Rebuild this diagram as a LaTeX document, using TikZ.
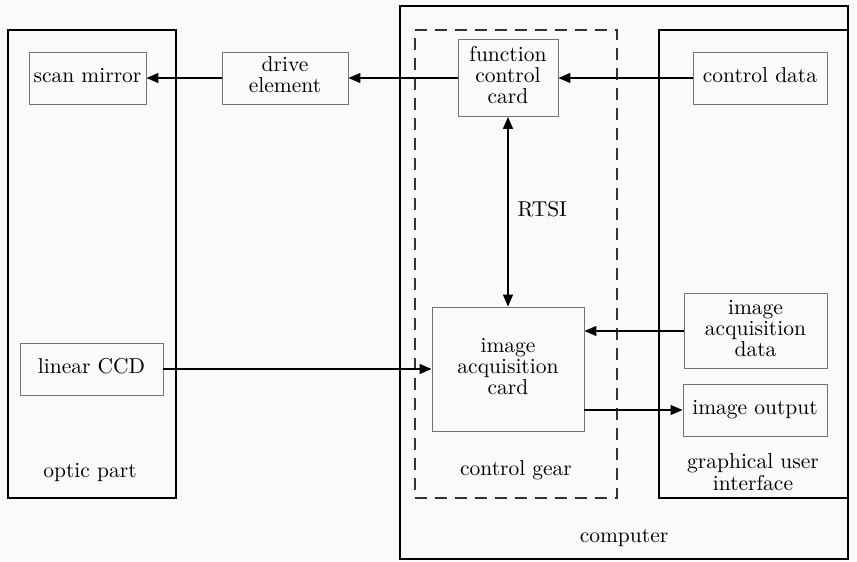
\documentclass[tikz,border=0pt]{standalone}
\usetikzlibrary{arrows.meta}
% labels are set in the 10pt design size and enlarged, which keeps the strokes heavy
\newcommand\lbl[1]{\scalebox{2.15}{\fontsize{10}{9.8}\selectfont\begin{tabular}{@{}c@{}}#1\end{tabular}}}
\begin{document}
\begin{tikzpicture}[x=1pt,y=-1pt,
  every node/.style={inner sep=0pt},
  inner/.style={draw=black!55, line width=0.9pt, rectangle, align=center},
  outer/.style={draw=black, line width=1.3pt, rectangle},
  dashedbox/.style={draw=black!80, line width=1.3pt, dash pattern=on 12pt off 8pt},
  conn/.style={line width=1.4pt, -{Triangle[length=12pt,width=10pt]}},
  biconn/.style={line width=1.4pt, {Triangle[length=12pt,width=10pt]}-{Triangle[length=12pt,width=10pt]}}
]
\useasboundingbox (0,0) rectangle (857,562);
\fill[white!98!black] (0,0) rectangle (857,562);

% enclosing frames
\node[outer, minimum width=168pt, minimum height=468pt] (optic) at (92,264) {};
\node[outer, minimum width=448pt, minimum height=553pt] (computer) at (624,282.5) {};
\node[dashedbox, minimum width=202pt, minimum height=468pt] (gear) at (516,264) {};
\node[outer, minimum width=189pt, minimum height=468pt] (gui) at (753.5,264) {};

% frame captions
\node (lopt) at (90,473) {\lbl{optic part}};
\node (lgear) at (516,471) {\lbl{control gear}};
\node (lgui) at (753,475) {\lbl{graphical user\\interface}};
\node (lcomp) at (624,538) {\lbl{computer}};

% blocks
\node[inner, minimum width=117pt, minimum height=52pt] (scan) at (87.5,78) {\lbl{scan mirror}};
\node[inner, minimum width=126pt, minimum height=52pt] (drive) at (285,78) {\lbl{drive\\element}};
\node[inner, minimum width=100pt, minimum height=77pt] (fcc) at (508,78) {\lbl{function\\control\\card}};
\node[inner, minimum width=134pt, minimum height=52pt] (cdata) at (760,78) {\lbl{control data}};
\node[inner, minimum width=143pt, minimum height=52pt] (ccd) at (91.5,369) {\lbl{linear CCD}};
\node[inner, minimum width=152pt, minimum height=124pt] (iac) at (508,369) {\lbl{image\\acquisition\\card}};
\node[inner, minimum width=143pt, minimum height=75pt] (iad) at (755.5,331) {\lbl{image\\acquisition\\data}};
\node[inner, minimum width=144pt, minimum height=52pt] (iout) at (755,410) {\lbl{image output}};

% connections
\draw[conn] (cdata.west) -- (cdata.west -| fcc.east);
\draw[conn] (fcc.west) -- (fcc.west -| drive.east);
\draw[conn] (drive.west) -- (scan.east);
\draw[biconn] (fcc.south) -- node[right=9pt] (rtsi) {\lbl{RTSI}} (iac.north);
\draw[conn] (ccd.east) -- (ccd.east -| iac.west);
\draw[conn] (iad.west) -- (iad.west -| iac.east);
\draw[conn] (iac.east |- iout.west) -- (iout.west);
\end{tikzpicture}
\end{document}
